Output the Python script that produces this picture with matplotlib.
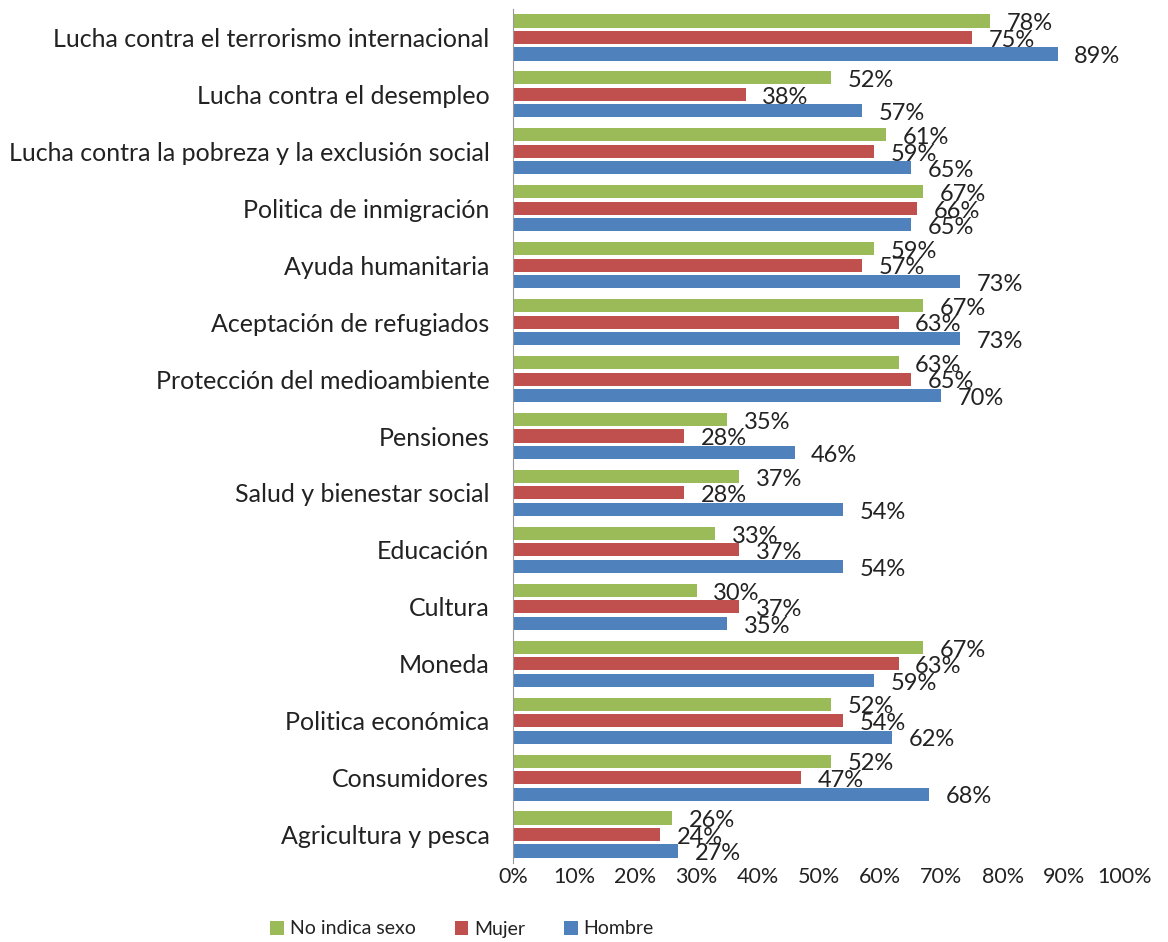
import matplotlib
matplotlib.use("Agg")
import matplotlib.pyplot as plt
import numpy as np

categories = [
    "Lucha contra el terrorismo internacional",
    "Lucha contra el desempleo",
    "Lucha contra la pobreza y la exclusión social",
    "Politica de inmigración",
    "Ayuda humanitaria",
    "Aceptación de refugiados",
    "Protección del medioambiente",
    "Pensiones",
    "Salud y bienestar social",
    "Educación",
    "Cultura",
    "Moneda",
    "Politica económica",
    "Consumidores",
    "Agricultura y pesca",
]
no_indica = [78, 52, 61, 67, 59, 67, 63, 35, 37, 33, 30, 67, 52, 52, 26]
mujer = [75, 38, 59, 66, 57, 63, 65, 28, 28, 37, 37, 63, 54, 47, 24]
hombre = [89, 57, 65, 65, 73, 73, 70, 46, 54, 54, 35, 59, 62, 68, 27]
series_names = ["No indica sexo", "Mujer", "Hombre"]
colors = ["#9BBB59", "#C0504D", "#4F81BD"]
xticks = [0, 10, 20, 30, 40, 50, 60, 70, 80, 90, 100]

plt.rcParams['font.family'] = ['Lato', 'DejaVu Sans']

fig = plt.figure(figsize=(11.68, 9.42), dpi=100)
ax = fig.add_axes([513/1168, 1 - 863/942, (1125-513)/1168, (863-9)/942])

y = np.arange(len(categories))
pitch = 0.29
height = 0.23
offsets = [-pitch, 0, pitch]
handles = []
for vals, off, col, name in zip([no_indica, mujer, hombre], offsets, colors, series_names):
    b = ax.barh(y + off, vals, height=height, color=col, label=name)
    handles.append(b)
    for yi, v in zip(y + off, vals):
        ax.annotate(f"{v}%", xy=(v, yi), xytext=(12, -2), textcoords="offset points",
                    ha="left", va="center", fontsize=17, color="#222222")

ax.set_ylim(len(categories) - 0.5, -0.5)
ax.set_xlim(0, 100)
ax.set_yticks(y)
ax.set_yticklabels(categories, fontsize=18, color="#222222")
ax.set_xticks(xticks)
ax.set_xticklabels([f"{t}%" for t in xticks], fontsize=15.5, color="#222222")
ax.tick_params(axis='x', length=0, pad=3)
ax.tick_params(axis='y', length=0, pad=17)
for s in ["top", "right", "bottom"]:
    ax.spines[s].set_visible(False)
ax.spines["left"].set_color("#999999")

fig.legend(handles=handles, labels=series_names, loc="center",
           bbox_to_anchor=(462/1168, 1 - 929/942), ncol=3, frameon=False,
           fontsize=14, handlelength=0.7, handleheight=0.7, handletextpad=0.3,
           columnspacing=2.0, labelcolor="#222222")

fig.savefig("out.png", dpi=100)
